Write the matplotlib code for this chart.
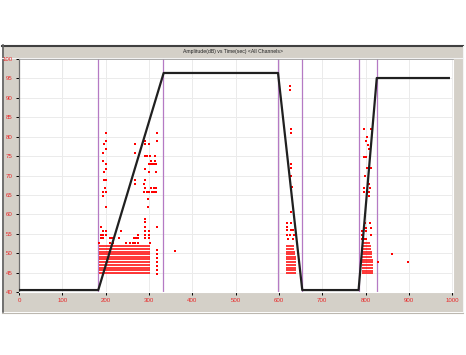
import matplotlib
matplotlib.use("Agg")
import matplotlib.pyplot as plt
from matplotlib.patches import Rectangle
from matplotlib.lines import Line2D

# ---------------- data ----------------
title = "Amplitude(dB) vs Time(sec) <All Channels>"
x_ticks = [0, 100, 200, 300, 400, 500, 600, 700, 800, 900, 1000]
y_ticks = [40, 45, 50, 55, 60, 65, 70, 75, 80, 85, 90, 95, 100]

# black envelope line
line_t = [0, 183, 334, 598, 654, 784, 826, 995]
line_db = [40.5, 40.5, 96.4, 96.4, 40.5, 40.5, 95.1, 95.1]

# purple vertical markers
marker_t = [183, 333, 598, 654, 785, 827]

# dense stripes of hits: (y level, x start, x end)
stripe_y = [44.9, 45.6, 46.3, 47.0, 47.7, 48.4, 49.0, 49.7, 50.4, 51.1, 51.8,
            44.9, 45.6, 46.3, 47.0, 47.7, 48.4, 49.0, 49.7, 50.4, 51.1, 51.8,
            44.8, 45.5, 46.2, 46.9, 47.6, 48.3, 49.0, 49.7, 50.4, 51.1, 51.8, 52.5]
stripe_x0 = [185] * 11 + [616] * 11 + [791, 791, 791, 792, 792, 792, 792, 792, 792, 793, 793, 794]
stripe_x1 = [303] * 11 + [639, 639, 639, 639, 639, 639, 639, 638, 637, 636, 635] + \
            [818, 818, 818, 818, 818, 817, 816, 815, 814, 813, 812, 810]

# isolated hits
hit_t = [
    # cluster 1
    185, 210, 217, 246, 256, 264, 268, 275, 302,
    189, 195, 210, 214, 218, 232, 265, 270, 275, 291, 299,
    189, 194, 200, 275, 291, 300,
    195, 200, 235, 291, 300,
    189, 291, 318,
    291, 291, 202, 298, 298, 195,
    195, 200, 289, 295, 300, 306, 312, 316,
    198, 292, 305, 312, 316,
    268, 289, 196, 201, 268, 291,
    196, 300, 316, 201, 291, 201, 300, 304, 308, 312, 316,
    195, 304, 314, 291, 296, 302, 314,
    195, 268, 200, 196, 268, 291, 300,
    201, 291, 318, 201, 319,
    318, 318, 318, 318, 318, 318, 318, 360,
    # cluster 2
    625, 625, 627, 627, 629, 629, 627, 630, 628,
    618, 629, 618, 618, 629, 633, 618, 625, 635, 622, 633,
    # cluster 3
    796, 812, 804, 800, 806, 808, 796, 802, 804, 812, 798, 808,
    796, 810, 796, 808, 808,
    798, 810, 801, 812, 791, 801, 793, 812, 793, 797, 801,
    829, 861, 897,
]
hit_db = [
    52.7, 52.7, 52.7, 52.7, 52.7, 52.7, 52.7, 52.7, 52.7,
    53.8, 53.8, 53.8, 53.8, 53.8, 53.8, 53.8, 53.8, 53.8, 53.8, 53.8,
    54.7, 54.7, 54.7, 54.7, 54.7, 54.7,
    55.7, 55.7, 55.7, 55.7, 55.7,
    56.8, 56.8, 56.8,
    57.9, 58.8, 61.8, 61.8, 63.9, 64.7,
    65.8, 65.8, 65.8, 65.8, 65.8, 65.8, 65.8, 65.8,
    66.9, 66.9, 66.9, 66.9, 66.9,
    67.7, 67.7, 68.8, 68.8, 68.8, 68.8,
    70.8, 70.8, 70.8, 71.8, 71.8, 72.9, 72.9, 72.9, 72.9, 72.9, 72.9,
    73.7, 73.7, 73.7, 74.9, 74.9, 74.9, 74.9,
    75.9, 75.9, 76.8, 78.0, 78.0, 78.0, 78.0,
    78.9, 78.9, 78.9, 80.9, 80.9,
    50.8, 49.8, 48.7, 47.6, 46.8, 45.7, 44.7, 50.6,
    93.0, 92.0, 82.0, 81.0, 72.9, 71.9, 69.9, 67.0, 60.7,
    57.7, 57.7, 56.7, 55.9, 55.9, 55.9, 54.8, 54.8, 54.8, 53.7, 53.7,
    81.9, 81.9, 79.8, 78.9, 77.9, 76.9, 74.8, 74.8, 71.9, 71.9, 69.9, 67.8,
    66.9, 66.9, 65.8, 65.8, 64.7,
    57.7, 57.7, 56.6, 56.6, 55.7, 55.7, 54.7, 54.7, 53.6, 53.6, 53.6,
    47.6, 49.7, 47.6,
]

# ---------------- figure ----------------
W, H = 466, 355
fig = plt.figure(figsize=(W / 100, H / 100), dpi=100)
fig.patch.set_facecolor("white")


def fx(px):
    return px / W


def fy(py):
    return 1 - py / H


grey = "#d4d0c8"
# panel background
fig.patches.append(Rectangle((fx(2), fy(312)), fx(461), 267 / H, transform=fig.transFigure,
                             facecolor=grey, edgecolor="none", zorder=-10))
# borders
fig.lines.append(Line2D([fx(2), fx(463)], [fy(45.5), fy(45.5)], transform=fig.transFigure,
                        color="#404040", lw=1.5, zorder=-5))
fig.lines.append(Line2D([fx(2.5), fx(2.5)], [fy(45), fy(312)], transform=fig.transFigure,
                        color="#606060", lw=1.2, zorder=-5))
fig.lines.append(Line2D([fx(2), fx(463)], [fy(312.5), fy(312.5)], transform=fig.transFigure,
                        color="#bcb8b0", lw=0.8, zorder=-5))
fig.lines.append(Line2D([fx(462.5), fx(462.5)], [fy(46), fy(312)], transform=fig.transFigure,
                        color="#f4f4f4", lw=0.8, zorder=-5))
fig.lines.append(Line2D([fx(2), fx(463)], [fy(57.5), fy(57.5)], transform=fig.transFigure,
                        color="#f2f2f2", lw=0.8, zorder=-5))

fig.text(fx(233), fy(51.5), title, ha="center", va="center", fontsize=3.7,
         family="Liberation Sans", color="#202020")

ax = fig.add_axes([fx(19), fy(292), fx(434), 233 / H])
ax.set_zorder(1)
ax.set_facecolor("white")
ax.set_xlim(0, 1002)
ax.set_ylim(40, 100)

ax.set_xticks(x_ticks)
ax.set_yticks(y_ticks)
ax.set_xticklabels([str(v) for v in x_ticks])
ax.set_yticklabels([str(v) for v in y_ticks])
ax.tick_params(axis="both", direction="out", length=2.5, width=0.7, color="black",
               labelsize=4.4, labelcolor="#e82828", pad=2.0)
for lab in ax.get_xticklabels() + ax.get_yticklabels():
    lab.set_family("Liberation Sans")
ax.grid(True, color="#ebebeb", lw=0.7)
ax.set_axisbelow(True)

ax.spines["left"].set_color("#707070")
ax.spines["left"].set_linewidth(0.9)
ax.spines["top"].set_color("#a0a0a0")
ax.spines["top"].set_linewidth(0.6)
ax.spines["right"].set_color("#ffffff")
ax.spines["bottom"].set_color("#ffffff")

for t in marker_t:
    ax.axvline(t, color="#b57ac4", lw=0.9, zorder=2)

ax.hlines(stripe_y, stripe_x0, stripe_x1, colors="#ff0000", lw=1.1, zorder=3)
ax.scatter(hit_t, hit_db, marker="s", s=2.2, color="#ff0000", linewidths=0, zorder=3)

ax.plot(line_t, line_db, color="#202020", lw=1.6, zorder=4, solid_capstyle="butt",
        clip_on=False)

fig.savefig("out.png", dpi=100, facecolor="white")
